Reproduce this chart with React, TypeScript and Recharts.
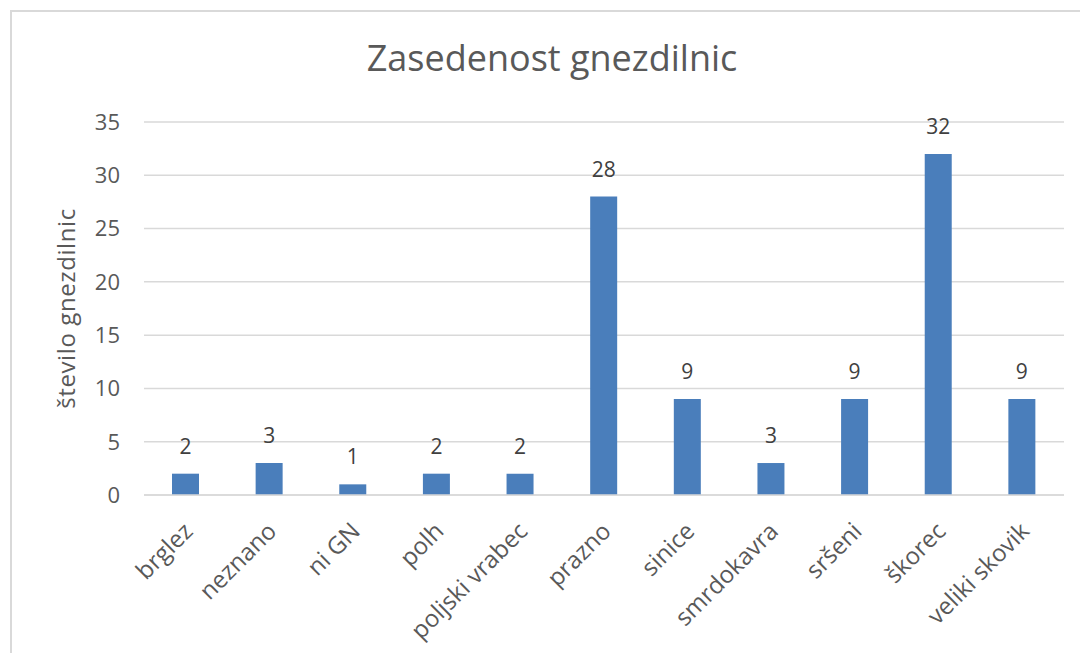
import React from 'react';
import { BarChart, Bar, XAxis, YAxis, CartesianGrid, LabelList } from 'recharts';

const categories = ['brglez', 'neznano', 'ni GN', 'polh', 'poljski vrabec', 'prazno', 'sinice', 'smrdokavra', 'sršeni', 'škorec', 'veliki skovik'];
const counts = [2, 3, 1, 2, 2, 28, 9, 3, 9, 32, 9];
const yTicks = [0, 5, 10, 15, 20, 25, 30, 35];
const titleText = 'Zasedenost gnezdilnic';
const yLabel = 'število gnezdilnic';

const data = categories.map((c, i) => ({ name: c, value: counts[i] }));

const FONT = '"Open Sans", sans-serif';

const XTick = (props: any) => {
  const { x, y, payload } = props;
  return (
    <g transform={`translate(${x},${y})`}>
      <text
        x={-15}
        y={0}
        dy={27}
        textAnchor="end"
        transform="rotate(-45)"
        fill="#595959"
        fontSize={24}
        fontFamily={FONT}
      >
        {payload.value}
      </text>
    </g>
  );
};

export default function App() {
  return (
    <div style={{ position: 'absolute', left: 0, top: 0, width: 1080, height: 653, background: '#fff', overflow: 'hidden' }}>
      <div
        style={{
          position: 'absolute',
          left: 10,
          top: 10,
          width: 1100,
          height: 700,
          border: '2px solid #d9d9d9',
          boxSizing: 'border-box',
        }}
      />
      <div
        style={{
          position: 'absolute',
          left: 0,
          width: 1104,
          top: 33,
          textAlign: 'center',
          fontFamily: FONT,
          fontSize: 36,
          color: '#595959',
          lineHeight: '50px',
          whiteSpace: 'nowrap',
        }}
      >
        {titleText}
      </div>
      <div style={{ position: 'absolute', left: 0, top: 0 }}>
        <BarChart
          width={1080}
          height={653}
          data={data}
          margin={{ top: 122, right: 16, bottom: 0, left: 0 }}
        >
          <CartesianGrid vertical={false} stroke="#d9d9d9" strokeWidth={1.5} />
          <XAxis
            dataKey="name"
            interval={0}
            tick={<XTick />}
            tickLine={false}
            axisLine={{ stroke: '#d9d9d9', strokeWidth: 1.5 }}
            height={158}
          />
          <YAxis
            domain={[0, 35]}
            ticks={yTicks}
            interval={0}
            tickLine={false}
            axisLine={false}
            width={144}
            tickMargin={18}
            tick={{ fill: '#595959', fontSize: 22, fontFamily: FONT }}
            label={{
              value: yLabel,
              angle: -90,
              position: 'center',
              dx: -6,
              fill: '#595959',
              fontSize: 24,
              fontFamily: FONT,
              letterSpacing: 0.6,
            }}
          />
          <Bar dataKey="value" fill="#4a7ebb" barSize={27} isAnimationActive={false}>
            <LabelList
              dataKey="value"
              position="top"
              offset={20}
              fill="#404040"
              fontSize={21}
              fontFamily={FONT}
            />
          </Bar>
        </BarChart>
      </div>
    </div>
  );
}
